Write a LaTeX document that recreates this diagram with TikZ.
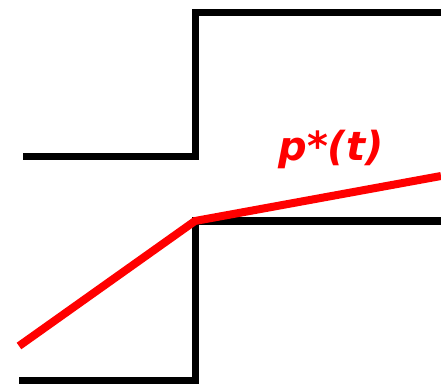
\documentclass[tikz,border=0pt]{standalone}
\usepackage{fontspec}
\newfontfamily\labelfont{DejaVu Sans}
\begin{document}
\begin{tikzpicture}[x=1pt, y=1pt]
    \useasboundingbox (0, 0) rectangle (441, 383);

    % Upper step
    \draw[line width=7pt] (23, 226) -- (195, 226) -- (195, 370.5) -- (441, 370.5);

    % Lower step
    \draw[line width=7pt] (19, 3) -- (195, 3) -- (195, 162) -- (441, 162);

    % Path p*(t)
    \draw[red, line width=8pt] (19, 37) -- (195, 162) -- (441, 207);
    \node[red, font=\labelfont\bfseries\itshape\fontsize{40}{40}\selectfont, anchor=base] (plabel) at (331, 222) {p*(t)};
\end{tikzpicture}
\end{document}
